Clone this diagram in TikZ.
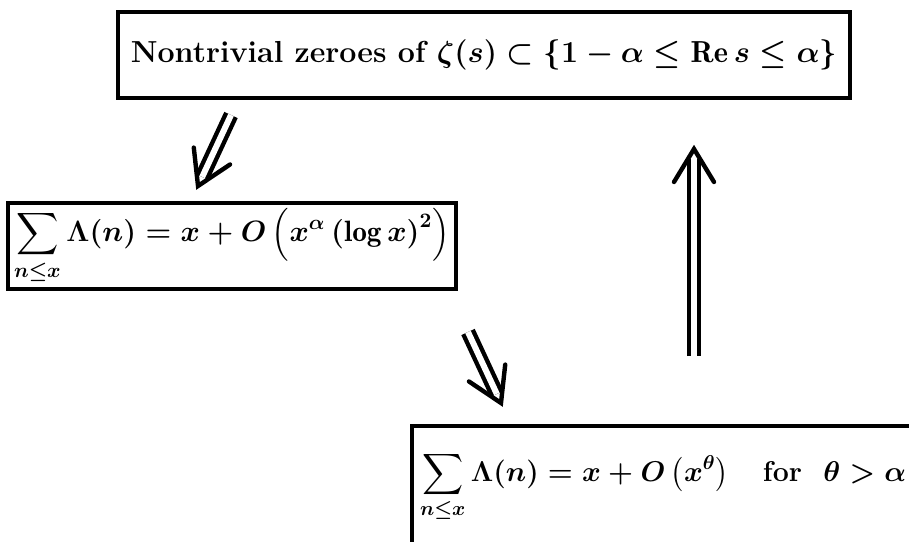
\RequirePackage{fix-cm}
\documentclass[tikz,border=0pt]{standalone}
\usepackage{amsmath,amssymb}
\usepackage{fontspec}
\usetikzlibrary{decorations.markings}

\begin{document}
\begin{tikzpicture}[x=0.5pt,y=0.5pt,
  box/.style={draw,line width=2pt,inner sep=0pt,font=\fontsize{#1}{#1}\selectfont\bfseries\boldmath},
  box/.default=14.7,
  imp/.style={preaction={draw,double,double distance=3pt,line width=2.2pt,shorten >=5pt},
    postaction={decorate,decoration={markings,mark=at position 1 with
      {\draw[line width=2.2pt,line cap=round] (-16.5pt,10pt) -- (0,0) -- (-16.5pt,-10pt);}}}}]
  \useasboundingbox (0,0) rectangle (909,541);
  % the three statements
  \node[box=15.2,minimum width=366pt,minimum height=43pt] (zeta) at (484,486)
    {Nontrivial zeroes of $\zeta(s)\subset\{1-\alpha\le\operatorname{Re}s\le\alpha\}$};
  \node[box,minimum width=224pt,minimum height=43pt] (sumlog) at (232,295)
    {$\displaystyle\sum_{n\le x}\Lambda(n)=x+O\left(x^{\alpha}\left(\log x\right)^2\right)$};
  \node[box=14.3,anchor=north west,inner xsep=4pt,minimum height=61pt] (sumtheta) at (410,117)
    {$\displaystyle\sum_{n\le x}\Lambda(n)=x+O\left(x^{\theta}\right)\quad\text{for}\ \ \theta>\alpha$};
  % implications
  \coordinate (z1) at (231,426);
  \coordinate (l1) at (198,355);
  \coordinate (l2) at (468,209);
  \coordinate (t1) at (501,138);
  \coordinate (t2) at (694,185);
  \coordinate (z2) at (694,392);
  \path[imp] (z1) -- (l1);
  \path[imp] (l2) -- (t1);
  \path[imp] (t2) -- (z2);
\end{tikzpicture}
\end{document}
